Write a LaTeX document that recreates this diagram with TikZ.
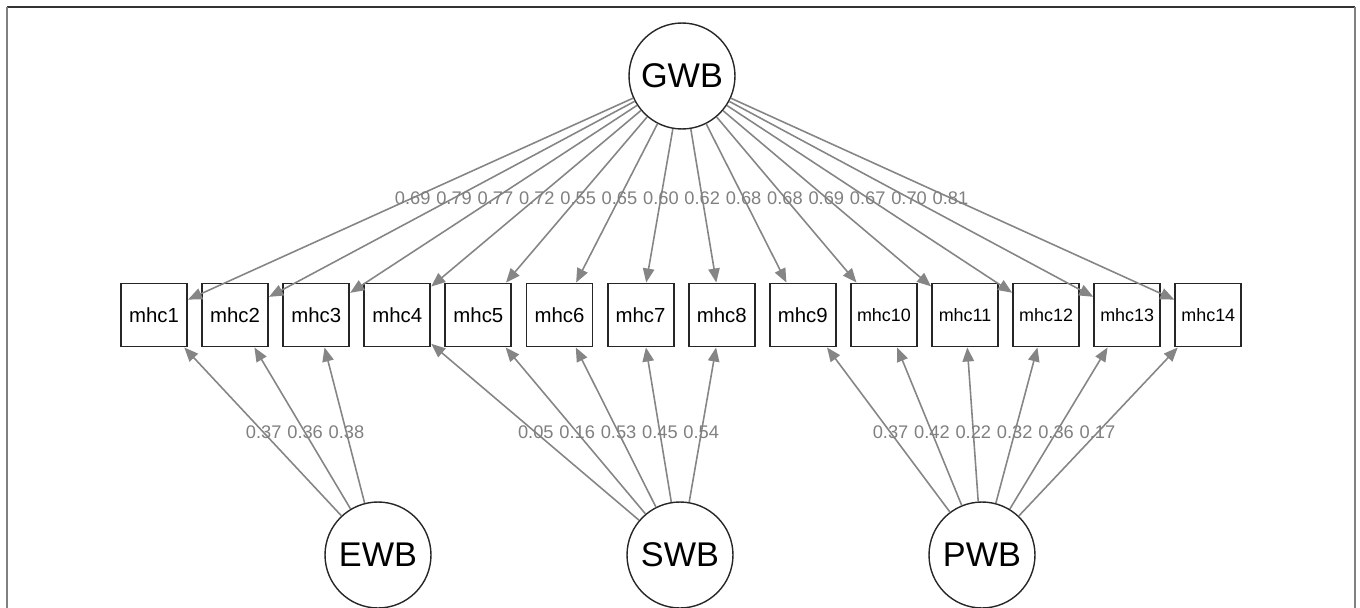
\documentclass[tikz,border=0pt]{standalone}
\usepackage{fontspec}
\setmainfont{Liberation Sans}
\usetikzlibrary{arrows.meta}

\tikzset{
  latent/.style={draw=black!85, line width=0.8pt, circle, minimum size=2.12cm, inner sep=0pt, font=\fontsize{19.5}{20}\selectfont},
  manifest/.style={draw=black!85, line width=1.1pt, minimum width=1.32cm, minimum height=1.26cm, inner sep=0pt, font=\fontsize{11.6}{12}\selectfont},
  load/.style={draw=black!48, line width=0.9pt, -{Triangle[length=8pt,width=6.5pt]}},
  coef/.style={text=black!50, font=\fontsize{10.4}{11}\selectfont, inner sep=0pt},
}

\begin{document}
\begin{tikzpicture}[x=0.02cm, y=-0.02cm]
        \useasboundingbox (0,0) rectangle (1360,608);
        % frame
        \draw[black!80, line width=0.8pt] (7,7) -- (1355,7);
        \draw[black!50, line width=1.1pt] (7,7) -- (7,608);
        \draw[black!50, line width=1.1pt] (1355,7) -- (1355,608);

        % factors
        \node[latent] (GWB) at (682,76) {GWB};
        \node[latent] (EWB) at (378,555) {EWB};
        \node[latent] (SWB) at (680,555) {SWB};
        \node[latent] (PWB) at (982,555) {PWB};

        % items
        \foreach \i in {1,...,9}
            \node[manifest] (m\i) at ({154+81.1*(\i-1)},315) {mhc\i};
        \foreach \i in {10,...,14}
            \node[manifest, font=\fontsize{10.2}{11}\selectfont] (m\i) at ({154+81.1*(\i-1)},315) {mhc\i};

        % general factor loadings
        \foreach \i/\v in {1/0.69,2/0.79,3/0.77,4/0.72,5/0.55,6/0.65,7/0.60,8/0.62,9/0.68,10/0.68,11/0.69,12/0.67,13/0.70,14/0.81} {
            \draw[load] (GWB) -- (m\i);
            \path (GWB.center) -- node[coef, pos=.51] {\v} (m\i.center);
        }

        % specific factor loadings
        \foreach \f/\i/\v in {EWB/1/0.37,EWB/2/0.36,EWB/3/0.38,
                SWB/4/0.05,SWB/5/0.16,SWB/6/0.53,SWB/7/0.45,SWB/8/0.54,
                PWB/9/0.37,PWB/10/0.42,PWB/11/0.22,PWB/12/0.32,PWB/13/0.36,PWB/14/0.17} {
            \draw[load] (\f) -- (m\i);
            \path (\f.center) -- node[coef, pos=.51] {\v} (m\i.center);
        }

    \end{tikzpicture}
\end{document}
